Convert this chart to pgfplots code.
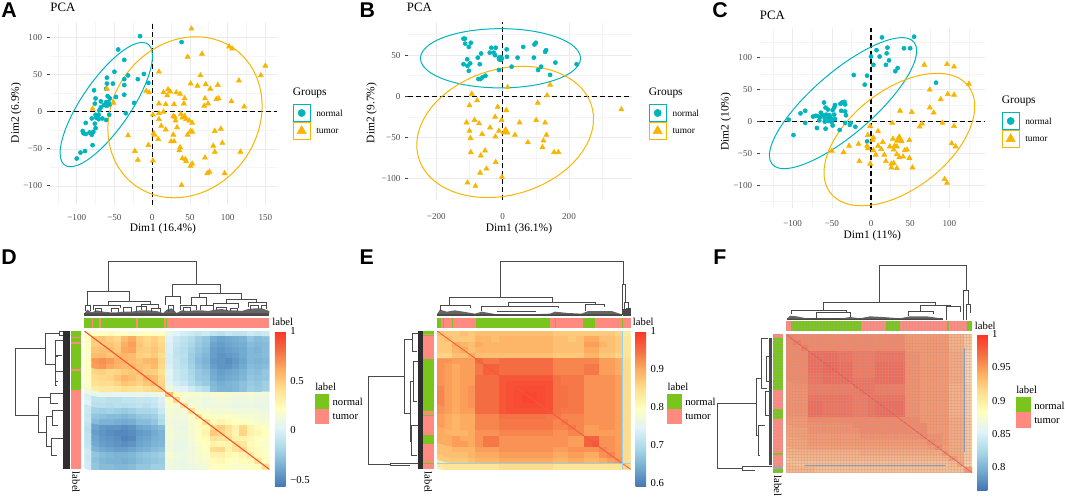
\documentclass[border=0pt]{standalone}
\usepackage{fontspec}
\usepackage{pgfplots}
\pgfplotsset{compat=1.18}
\setmainfont{Liberation Serif}
\newfontfamily\lettersans{Liberation Sans}
\definecolor{teal1}{HTML}{00B4BE}
\definecolor{gold1}{HTML}{F8B500}
\definecolor{ggreen}{HTML}{7AC51D}
\definecolor{ssalmon}{HTML}{FF8A80}
\definecolor{dendc}{HTML}{4A4A4A}
\definecolor{ticktxt}{HTML}{4D4D4D}
\definecolor{fgrid}{HTML}{A8A2A0}
\definecolor{fpink}{HTML}{EB788C}
\newcommand\ftick{\fontsize{6.8}{8}\selectfont}
\newcommand\flab{\fontsize{8.6}{10}\selectfont}
\newcommand\fleg{\fontsize{7}{8}\selectfont}
\newcommand\fhl{\fontsize{8}{9}\selectfont}
\newcommand\flet{\fontsize{16}{18}\selectfont\lettersans\bfseries}
\pgfplotsset{
 colormap={rdylbu}{rgb255=(69,117,180) rgb255=(116,173,209) rgb255=(171,217,233) rgb255=(224,243,248) rgb255=(255,255,191) rgb255=(254,224,144) rgb255=(253,174,97) rgb255=(244,109,67) rgb255=(252,52,40)},
 pca/.style={scale only axis, anchor=south west, clip=false,
  axis line style={draw=none}, tick align=outside, tick pos=left,
  xtick style={draw=none}, ytick style={draw=black!75,line width=0.8pt},
  major tick length=2.4pt, minor tick length=0pt,
  grid=both, major grid style={gray!16,line width=0.5pt}, minor grid style={gray!8,line width=0.4pt},
  tick label style={font=\ftick,text=ticktxt},
  label style={font=\flab}, title style={font=\fontsize{9.6}{11}\selectfont,anchor=center},
 },
 ov/.style={scale only axis, anchor=south west, hide axis, clip=false, xmin=0,xmax=1065,y dir=reverse,ymin=0},
 norm/.style={only marks,mark=*,teal1,mark size=1.55pt,mark options={fill=teal1}},
 tumo/.style={only marks,mark=triangle*,gold1,mark size=2.2pt,mark options={fill=gold1}},
 ell/.style={smooth cycle,tension=0.63,no marks,line width=0.75pt},
 zero/.style={black,line width=0.95pt,dash pattern=on 3.6pt off 2.4pt,no marks},
 heat/.style={scale only axis, anchor=south west, enlargelimits=false, y dir=reverse,
  xmin=-0.5,xmax=24.5,ymin=-0.5,ymax=24.5, xtick=\empty,ytick=\empty,
  axis line style={draw=none}, colormap name=rdylbu, colorbar},
 dend/.style={dendc,line width=0.5pt,no marks},
 fgridded/.style={scale only axis,anchor=south west,axis line style={draw=none},axis on top,
  major tick length=0pt,xticklabels={},yticklabels={},grid=major,
  major grid style={color=fgrid,opacity=0.33,line width=0.75pt}},
}
\newcommand\Rb[5]{\addplot[fill=#5,draw=none,forget plot] coordinates {(#1,#3)(#2,#3)(#2,#4)(#1,#4)} -- cycle;}
\newcommand\Bx[5]{\addplot[draw=#5,line width=0.75pt,no marks,forget plot] coordinates {(#1,#3)(#2,#3)(#2,#4)(#1,#4)} -- cycle;}
\newcommand\Ub[5]{\addplot[dend,forget plot] coordinates {(#1,#4)(#1,#3)(#2,#3)(#2,#5)};}
\newcommand\Vb[5]{\addplot[dend,forget plot] coordinates {(#4,#1)(#3,#1)(#3,#2)(#5,#2)};}
\newcommand\PCAleg[7]{% xbox0 xbox1 y0 ymid y1 xtext xgroups
 \Bx{#1}{#2}{#3}{#4}{teal1}
 \Bx{#1}{#2}{#4+3}{#5}{gold1}
 \addplot[only marks,teal1,mark=*,mark size=2.7pt,mark options={fill=teal1},forget plot] coordinates {({(#1+#2)/2},{(#3+#4)/2})};
 \addplot[only marks,gold1,mark=triangle*,mark size=4pt,mark options={fill=gold1},forget plot] coordinates {({(#1+#2)/2},{(#4+3+#5)/2})};
 \node[font=\fleg,anchor=west,inner sep=0pt] at (#6,{(#3+#4)/2}) {normal};
 \node[font=\fleg,anchor=west,inner sep=0pt] at (#6,{(#4+3+#5)/2}) {tumor};
 \node[font=\flab,anchor=west,inner sep=0pt] at (#7,{#3-33}) {Groups};
}
\begin{document}
\begin{tikzpicture}
\useasboundingbox (0pt,0pt) rectangle (798.75pt,-372.75pt);
% ---------- A
\begin{axis}[pca,at={(37.5pt,-153.75pt)},width=170pt,height=137.5pt,
 xmin=-135.4,xmax=165,ymin=-125.7,ymax=121.5,
 xtick={-100,-50,0,50,100,150},xticklabels={−100,−50,0,50,100,150},
 ytick={-100,-50,0,50,100},yticklabels={−100,−50,0,50,100},
 minor xtick={-125,-75,-25,25,75,125},minor ytick={-75,-25,25,75},
 xticklabel style={yshift=-1.5pt},
 title={PCA},title style={at={(axis description cs:0.057,1.036)}},
 xlabel={Dim1 (16.4\%)},xlabel style={at={(axis description cs:0.498,-0.13)},anchor=center},
 ylabel={Dim2 (6.9\%)},ylabel style={at={(axis description cs:-0.15,0.502)},anchor=center}]
\addplot[zero,forget plot] coordinates {(-135.4,0)(165,0)};
\addplot[zero,forget plot] coordinates {(0,-125.7)(0,121.5)};
\addplot[norm] coordinates {(-16,102)(39,94)(-45,84)(-37,70)(-50,54)(-32,49)(-11,51)(-19,44)(-37,44)(-5,39)(-60,46)(-52,38)(-60,38)(-37,36)(-77,29)(-61,31)(-37,23)(-48,20)(-75,18)(-59,21)(-56,18)(-24,12)(-76,11)(-68,14)(-61,13)(-58,13)(-64,9)(-60,8)(-56,10)(-68,6)(-70,2)(-57,-4)(-35,-2)(-75,-4)(-71,-4)(-74,-8)(-80,-9)(-71,-10)(-66,-9)(-61,-11)(-88,-15)(-76,-16)(-75,-22)(-92,-26)(-91,-29)(-88,-30)(-83,-28)(-78,-27)(-80,-31)(-79,-45)(-89,-53)(-95,-55)(-100,-63)};
\addplot[tumo] coordinates {(52,112)(66,78)(47,74)(102,88)(106,85)(150,62)(144,49)(9,54)(64,49)(115,42)(51,38)(60,35)(71,37)(87,36)(77,31)(-8,28)(-4,26)(21,30)(15,26)(24,27)(32,26)(37,24)(20,22)(43,18)(70,18)(85,17)(88,18)(105,14)(-60,31)(-79,4)(-51,12)(9,11)(18,10)(29,10)(42,11)(74,11)(69,8)(122,7)(15,0)(9,-2)(1,-4)(28,-6)(30,-7)(38,-3)(43,-6)(40,-8)(45,-10)(49,-12)(53,-15)(9,-10)(31,-12)(12,-19)(18,-24)(33,-21)(51,-26)(53,-27)(47,-31)(28,-31)(2,-29)(3,-31)(-32,-32)(8,-37)(25,-40)(29,-40)(37,-48)(36,-52)(-5,-45)(-23,-53)(-19,-65)(1,-66)(40,-63)(44,-64)(45,-67)(91,-23)(83,-26)(93,-42)(81,-46)(83,-54)(117,-54)(70,-62)(53,-70)(51,-73)(76,-81)(73,-83)(96,-83)(39,-99)};
\addplot[ell,teal1] coordinates {(0.4,75.1)(-7.8,92.5)(-30.2,87.9)(-60.8,62.2)(-91.4,22.5)(-113.8,-20.7)(-122,-55.7)(-113.8,-73.1)(-91.4,-68.5)(-60.8,-42.8)(-30.2,-3.1)(-7.8,40.1)};
\addplot[ell,gold1] coordinates {(145.7,7.8)(132,59.6)(94.6,93.3)(43.5,100.1)(-7.6,78.1)(-45,33.2)(-58.7,-22.6)(-45,-74.4)(-7.6,-108.1)(43.5,-114.9)(94.6,-92.9)(132,-48)};
\end{axis}
% ---------- B
\begin{axis}[pca,at={(306.2pt,-150pt)},width=167.55pt,height=133.7pt,
 xmin=-284.6,xmax=389,ymin=-126,ymax=90.6,
 xtick={-200,0,200},xticklabels={−200,0,200},
 ytick={-100,-50,0,50},yticklabels={−100,−50,0,50},
 minor xtick={-100,100,300},minor ytick={-75,-25,25,75},
 xticklabel style={yshift=-4.5pt},
 title={PCA},title style={at={(axis description cs:0.05,1.035)}},
 xlabel={Dim1 (36.1\%)},xlabel style={at={(axis description cs:0.4955,-0.16)},anchor=center},
 ylabel={Dim2 (9.7\%)},ylabel style={at={(axis description cs:-0.164,0.488)},anchor=center}]
\addplot[zero,forget plot] coordinates {(-284.6,0)(389,0)};
\addplot[zero,forget plot] coordinates {(0,-126)(0,90.6)};
\addplot[norm] coordinates {(-118,70)(-114,70)(-96,65)(-113,64)(-102,60)(-34,59)(-21,59)(-39,53)(-27,53)(-23,50)(-65,52)(-75,47)(12,57)(13,48)(45,47)(62,60)(100,65)(96,63)(131,56)(128,54)(94,47)(159,41)(223,39)(116,36)(107,32)(143,26)(27,36)(-11,32)(-118,39)(-107,45)(-98,40)(-106,37)(-102,31)(-69,39)(-73,21)(-67,21)(-61,23)(-52,25)};
\addplot[only marks,teal1,mark=*,mark size=2.6pt,mark options={fill=teal1}] coordinates {(-7,46)};
\addplot[tumo] coordinates {(-93,3)(15,11)(143,14)(134,1)(-77,-5)(-100,-11)(-15,-13)(106,-8)(11,-17)(358,-16)(-23,-25)(-85,-29)(-3,-29)(-109,-32)(-71,-33)(51,-32)(101,-29)(128,-32)(-38,-38)(-100,-42)(-11,-42)(-62,-46)(-97,-51)(-22,-49)(37,-47)(132,-47)(123,-54)(76,-56)(120,-62)(-96,-68)(-53,-66)(-66,-72)(155,-68)(168,-68)(-21,-80)(-49,-88)(-68,-93)(-2,-98)(-106,-105)(-82,-109)};
\addplot[only marks,gold1,mark=triangle*,mark size=3.8pt,mark options={fill=gold1}] coordinates {(9,-43)};
\addplot[ell,teal1] coordinates {(235,46.2)(202.6,64.2)(114.3,77.4)(-6.5,82.2)(-127.3,77.4)(-215.6,64.2)(-248,46.2)(-215.6,28.2)(-127.3,15)(-6.5,10.2)(114.3,15)(202.6,28.2)};
\addplot[ell,gold1] coordinates {(274,-27.4)(238.3,9.5)(140.8,32.3)(7.5,34.8)(-125.8,16.3)(-223.3,-18.1)(-259,-59.2)(-223.3,-96.1)(-125.8,-118.9)(7.5,-121.4)(140.8,-102.9)(238.3,-68.5)};
\end{axis}
% ---------- C
\begin{axis}[pca,at={(570pt,-156.2pt)},width=168.75pt,height=135pt,
 xmin=-141.7,xmax=145.5,ymin=-135.7,ymax=146.3,
 xtick={-100,-50,0,50,100},xticklabels={−100,−50,0,50,100},
 ytick={-100,-50,0,50,100},yticklabels={−100,−50,0,50,100},
 minor xtick={-125,-75,-25,25,75,125},minor ytick={-125,-75,-25,25,75,125},
 xticklabel style={yshift=-3pt},
 title={PCA},title style={at={(axis description cs:0.055,1.03)}},
 xlabel={Dim1 (11\%)},xlabel style={at={(axis description cs:0.499,-0.155)},anchor=center},
 ylabel={Dim2 (10\%)},ylabel style={at={(axis description cs:-0.152,0.481)},anchor=center}]
\addplot[zero,forget plot] coordinates {(-141.7,0)(145.5,0)};
\addplot[zero,forget plot] coordinates {(0,-135.7)(0,146.3)};
\addplot[norm] coordinates {(14,132)(55,133)(21,116)(42,115)(50,115)(7,112)(20,107)(0,102)(11,102)(23,96)(3,89)(19,89)(34,84)(31,79)(-22,73)(-5,72)(-8,58)(83,61)(-60,30)(-37,30)(-34,31)(-39,28)(-33,27)(-46,26)(-58,22)(-47,22)(-55,19)(-49,18)(-84,17)(-90,13)(-64,14)(-38,17)(-33,16)(-32,10)(-71,9)(-69,9)(-74,8)(-61,10)(-57,11)(-53,10)(-47,11)(-65,7)(-59,5)(-54,7)(-51,5)(-46,4)(-66,2)(-59,0)(-54,1)(-50,-1)(-105,3)(-26,-2)(-84,-2)(-33,-2)(-27,-5)(-49,-6)(-20,-8)(-69,-10)(-58,-11)(-40,-13)(-99,-21)(-5,-31)};
\addplot[tumo] coordinates {(68,89)(97,90)(106,86)(125,59)(75,50)(98,43)(106,42)(89,35)(75,22)(80,14)(37,17)(52,15)(27,-2)(65,-3)(62,-8)(91,-2)(106,-7)(-1,-7)(9,-15)(-4,-21)(3,-25)(2,-29)(103,-34)(108,-39)(-28,-38)(-16,-35)(-5,-38)(-4,-42)(9,-38)(15,-32)(28,-27)(36,-25)(34,-30)(39,-31)(49,-29)(30,-38)(24,-39)(33,-39)(29,-44)(13,-43)(46,-44)(43,-45)(-50,-46)(-35,-48)(3,-45)(6,-52)(17,-52)(33,-51)(36,-56)(41,-55)(49,-57)(19,-62)(-15,-62)(-1,-66)(26,-66)(29,-65)(33,-73)(53,-72)(26,-72)(94,-90)(97,-96)};
\addplot[only marks,gold1,mark=triangle*,mark size=3.8pt,mark options={fill=gold1}] coordinates {(36,-27)};
\addplot[ell,teal1] coordinates {(58.3,111.1)(45.7,130.9)(11.3,123.3)(-35.7,90.6)(-82.7,41.3)(-117.1,-11.3)(-129.7,-53.1)(-117.1,-72.9)(-82.7,-65.3)(-35.7,-32.6)(11.3,16.7)(45.7,69.3)};
\addplot[ell,gold1] coordinates {(132.4,23.9)(119.5,61.8)(84.3,75.8)(36.2,61.8)(-11.9,23.8)(-47.1,-28)(-60,-79.9)(-47.1,-117.8)(-11.9,-131.8)(36.2,-117.8)(84.3,-79.8)(119.5,-28)};
\end{axis}
% ---------- overlays top
\begin{axis}[ov,at={(0pt,-168.75pt)},width=266.25pt,height=168.75pt,ymax=675]
\PCAleg{880}{930}{313}{365}{418}{948}{878}
\node[font=\flet] at (27,30) {A};
\end{axis}
\begin{axis}[ov,at={(266.25pt,-168.75pt)},width=266.25pt,height=168.75pt,ymax=675]
\PCAleg{883}{933}{313}{365}{418}{952}{881}
\node[font=\flet] at (37,30) {B};
\end{axis}
\begin{axis}[ov,at={(532.5pt,-168.75pt)},width=266.25pt,height=168.75pt,ymax=675]
\PCAleg{877}{927}{337}{389}{442}{945}{875}
\node[font=\flet] at (30,30) {C};
\end{axis}
% ---------- D heat
\begin{axis}[heat,at={(63.25pt,-352pt)},width=138.75pt,height=103.75pt,
 point meta min=-0.567,point meta max=1,
 colorbar style={at={(1.0306,1)},anchor=north west,scale only axis,width=8pt,height=116.75pt,
  ytick={-0.5,0,0.5,1},yticklabels={−0.5,0,0.5,1},yticklabel pos=right,major tick length=0pt,
  axis line style={draw=none},yticklabel style={font=\fhl}}]
\addplot[matrix plot*,mesh/cols=25,point meta=\thisrow{z}] table[row sep=crcr,x expr={mod(\coordindex,25)},y expr={floor(\coordindex/25)}] {z\\
.20\\.22\\.20\\.25\\.20\\.22\\.18\\.20\\.22\\.20\\.20\\.08\\.02\\-.02\\-.05\\-.08\\-.05\\-.10\\-.12\\-.08\\-.10\\-.10\\-.05\\-.08\\-.05\\
.22\\.50\\.52\\.48\\.45\\.55\\.62\\.50\\.45\\.48\\.42\\.02\\-.06\\-.10\\-.15\\-.22\\-.26\\-.36\\-.40\\-.38\\-.36\\-.34\\-.26\\-.30\\-.28\\
.20\\.48\\.50\\.52\\.48\\.60\\.65\\.52\\.46\\.50\\.44\\.00\\-.08\\-.12\\-.18\\-.24\\-.28\\-.40\\-.42\\-.40\\-.38\\-.36\\-.30\\-.32\\-.30\\
.22\\.52\\.54\\.55\\.50\\.62\\.64\\.50\\.48\\.52\\.46\\.00\\-.10\\-.14\\-.20\\-.26\\-.30\\-.42\\-.44\\-.42\\-.40\\-.38\\-.32\\-.34\\-.30\\
.18\\.55\\.56\\.52\\.55\\.58\\.55\\.48\\.46\\.50\\.42\\-.02\\-.10\\-.12\\-.22\\-.28\\-.32\\-.42\\-.46\\-.44\\-.42\\-.38\\-.32\\-.32\\-.30\\
.24\\.68\\.70\\.66\\.60\\.58\\.55\\.52\\.56\\.58\\.46\\-.02\\-.08\\-.14\\-.22\\-.30\\-.34\\-.44\\-.46\\-.48\\-.44\\-.40\\-.32\\-.34\\-.32\\
.22\\.66\\.68\\.62\\.58\\.56\\.58\\.54\\.52\\.56\\.44\\.00\\-.08\\-.12\\-.20\\-.28\\-.32\\-.42\\-.46\\-.46\\-.42\\-.38\\-.30\\-.32\\-.30\\
.20\\.46\\.48\\.44\\.46\\.50\\.52\\.55\\.50\\.48\\.40\\.04\\-.06\\-.10\\-.18\\-.24\\-.28\\-.38\\-.42\\-.40\\-.38\\-.34\\-.28\\-.30\\-.26\\
.22\\.42\\.44\\.46\\.52\\.58\\.54\\.50\\.58\\.55\\.44\\.02\\-.06\\-.10\\-.16\\-.24\\-.26\\-.36\\-.40\\-.38\\-.36\\-.32\\-.26\\-.28\\-.26\\
.20\\.40\\.42\\.42\\.46\\.52\\.50\\.46\\.52\\.56\\.46\\.06\\-.02\\-.06\\-.14\\-.20\\-.24\\-.32\\-.36\\-.34\\-.32\\-.28\\-.24\\-.26\\-.22\\
.18\\.34\\.36\\.36\\.38\\.42\\.40\\.38\\.42\\.44\\.48\\.12\\.04\\.02\\-.04\\-.10\\-.14\\-.30\\-.34\\-.34\\-.32\\-.28\\-.22\\-.24\\-.22\\
.12\\.08\\.06\\.06\\.05\\.06\\.06\\.08\\.06\\.08\\.12\\.55\\.25\\.18\\.16\\.16\\.14\\.16\\.16\\.16\\.14\\.14\\.14\\.12\\.12\\
.00\\-.10\\-.10\\-.12\\-.12\\-.10\\-.10\\-.08\\-.08\\-.06\\.00\\.20\\.45\\.16\\.12\\.14\\.10\\.12\\.14\\.12\\.10\\.10\\.12\\.10\\.10\\
.02\\-.12\\-.12\\-.14\\-.12\\-.14\\-.12\\-.10\\-.12\\-.08\\-.02\\.18\\.14\\.40\\.14\\.12\\.10\\.10\\.12\\.10\\.08\\.08\\.10\\.08\\.08\\
-.06\\-.20\\-.22\\-.20\\-.22\\-.24\\-.22\\-.18\\-.18\\-.16\\-.06\\.14\\.12\\.14\\.40\\.18\\.16\\.15\\.14\\.15\\.12\\.12\\.12\\.12\\.10\\
-.08\\-.26\\-.28\\-.30\\-.30\\-.32\\-.30\\-.26\\-.24\\-.22\\-.12\\.14\\.12\\.12\\.18\\.38\\.22\\.20\\.18\\.20\\.18\\.16\\.16\\.14\\.12\\
-.06\\-.30\\-.34\\-.34\\-.36\\-.38\\-.36\\-.30\\-.30\\-.26\\-.16\\.12\\.10\\.10\\.16\\.22\\.40\\.25\\.28\\.24\\.22\\.20\\.18\\.16\\.15\\
-.10\\-.40\\-.44\\-.46\\-.46\\-.48\\-.46\\-.40\\-.38\\-.34\\-.30\\.14\\.10\\.08\\.16\\.22\\.26\\.42\\.48\\.40\\.30\\.44\\.30\\.24\\.20\\
-.12\\-.42\\-.46\\-.48\\-.50\\-.50\\-.48\\-.44\\-.42\\-.38\\-.34\\.14\\.12\\.10\\.14\\.20\\.28\\.50\\.45\\.38\\.28\\.46\\.30\\.26\\.22\\
-.10\\-.40\\-.44\\-.46\\-.48\\-.52\\-.50\\-.42\\-.40\\-.36\\-.34\\.14\\.10\\.10\\.15\\.22\\.24\\.38\\.36\\.40\\.30\\.30\\.26\\.22\\.20\\
-.10\\-.38\\-.42\\-.44\\-.46\\-.48\\-.46\\-.40\\-.38\\-.34\\-.32\\.12\\.08\\.08\\.12\\.18\\.22\\.30\\.28\\.30\\.40\\.36\\.24\\.20\\.18\\
-.08\\-.34\\-.38\\-.40\\-.42\\-.42\\-.40\\-.36\\-.34\\-.30\\-.28\\.12\\.08\\.08\\.12\\.16\\.20\\.42\\.44\\.30\\.38\\.42\\.28\\.24\\.18\\
-.04\\-.26\\-.30\\-.32\\-.34\\-.34\\-.32\\-.28\\-.26\\-.24\\-.22\\.16\\.12\\.10\\.12\\.16\\.18\\.30\\.30\\.26\\.24\\.28\\.36\\.24\\.20\\
-.06\\-.28\\-.32\\-.34\\-.34\\-.36\\-.34\\-.30\\-.28\\-.26\\-.24\\.12\\.10\\.08\\.12\\.14\\.16\\.24\\.26\\.22\\.20\\.24\\.24\\.38\\.22\\
-.04\\-.26\\-.30\\-.30\\-.32\\-.32\\-.30\\-.26\\-.26\\-.22\\-.22\\.12\\.10\\.08\\.10\\.12\\.15\\.20\\.22\\.20\\.18\\.18\\.20\\.22\\.40\\
};
\addplot[color={rgb,255:red,246;green,80;blue,50},line width=0.8pt,no marks] coordinates {(-0.5,-0.5)(24.5,24.5)};
\end{axis}
% ---------- E heat
\begin{axis}[heat,at={(327.75pt,-352pt)},width=145.25pt,height=103.75pt,
 point meta min=0.59,point meta max=1,
 colorbar style={at={(1.0258,1)},anchor=north west,scale only axis,width=7.75pt,height=116.75pt,
  ytick={0.6,0.7,0.8,0.9,1},yticklabels={0.6,0.7,0.8,0.9,1},yticklabel pos=right,major tick length=0pt,
  axis line style={draw=none},yticklabel style={font=\fhl}}]
\addplot[matrix plot*,mesh/cols=25,point meta=\thisrow{z}] table[row sep=crcr,x expr={mod(\coordindex,25)},y expr={floor(\coordindex/25)}] {z\\
.88\\.87\\.87\\.88\\.87\\.88\\.88\\.88\\.88\\.88\\.88\\.88\\.88\\.88\\.88\\.87\\.87\\.87\\.87\\.87\\.87\\.87\\.87\\.86\\.83\\
.87\\.88\\.87\\.87\\.87\\.89\\.89\\.88\\.89\\.89\\.89\\.89\\.89\\.89\\.89\\.88\\.88\\.87\\.88\\.90\\.90\\.88\\.88\\.87\\.84\\
.87\\.87\\.90\\.89\\.88\\.90\\.89\\.89\\.89\\.89\\.89\\.89\\.89\\.89\\.89\\.88\\.88\\.88\\.88\\.91\\.91\\.89\\.88\\.87\\.84\\
.87\\.87\\.89\\.90\\.88\\.89\\.89\\.89\\.89\\.89\\.89\\.89\\.89\\.89\\.89\\.88\\.88\\.88\\.88\\.90\\.90\\.88\\.88\\.87\\.84\\
.86\\.86\\.88\\.88\\.90\\.88\\.88\\.88\\.88\\.88\\.88\\.88\\.88\\.88\\.88\\.87\\.87\\.87\\.87\\.89\\.89\\.87\\.87\\.86\\.84\\
.92\\.92\\.91\\.91\\.91\\.95\\.94\\.94\\.95\\.95\\.95\\.95\\.95\\.95\\.95\\.93\\.93\\.93\\.93\\.93\\.93\\.91\\.91\\.90\\.85\\
.92\\.91\\.90\\.91\\.91\\.94\\.96\\.96\\.95\\.95\\.95\\.95\\.95\\.95\\.95\\.93\\.93\\.93\\.93\\.94\\.94\\.91\\.91\\.90\\.85\\
.92\\.91\\.90\\.91\\.91\\.94\\.96\\.96\\.95\\.95\\.95\\.95\\.95\\.95\\.95\\.93\\.93\\.93\\.93\\.94\\.94\\.91\\.91\\.90\\.85\\
.92\\.91\\.90\\.91\\.91\\.95\\.95\\.95\\.97\\.97\\.97\\.97\\.97\\.97\\.97\\.945\\.94\\.94\\.94\\.92\\.92\\.92\\.92\\.91\\.85\\
.92\\.91\\.90\\.91\\.91\\.95\\.95\\.95\\.97\\.975\\.975\\.975\\.975\\.975\\.975\\.945\\.94\\.94\\.94\\.92\\.92\\.92\\.92\\.91\\.85\\
.93\\.91\\.90\\.91\\.92\\.95\\.95\\.95\\.97\\.975\\.98\\.98\\.98\\.98\\.975\\.945\\.945\\.94\\.94\\.92\\.92\\.92\\.92\\.91\\.85\\
.93\\.91\\.90\\.91\\.92\\.95\\.95\\.95\\.97\\.975\\.98\\.985\\.985\\.98\\.975\\.945\\.945\\.94\\.94\\.92\\.92\\.92\\.92\\.91\\.85\\
.93\\.91\\.90\\.91\\.92\\.95\\.95\\.95\\.97\\.975\\.98\\.985\\.985\\.98\\.975\\.945\\.945\\.94\\.94\\.92\\.92\\.92\\.92\\.91\\.85\\
.93\\.91\\.90\\.91\\.92\\.95\\.95\\.95\\.97\\.975\\.98\\.98\\.98\\.98\\.975\\.945\\.945\\.94\\.94\\.92\\.92\\.92\\.92\\.91\\.85\\
.92\\.91\\.90\\.91\\.91\\.95\\.95\\.95\\.97\\.975\\.975\\.975\\.975\\.975\\.975\\.945\\.94\\.94\\.94\\.92\\.92\\.92\\.92\\.91\\.85\\
.91\\.90\\.89\\.90\\.90\\.93\\.93\\.93\\.945\\.945\\.945\\.945\\.945\\.945\\.94\\.94\\.93\\.93\\.93\\.92\\.92\\.92\\.92\\.91\\.85\\
.91\\.90\\.89\\.90\\.90\\.93\\.93\\.93\\.94\\.94\\.94\\.94\\.94\\.94\\.94\\.93\\.94\\.93\\.93\\.92\\.92\\.92\\.92\\.91\\.85\\
.91\\.90\\.89\\.90\\.90\\.93\\.93\\.93\\.94\\.94\\.94\\.94\\.94\\.94\\.94\\.93\\.93\\.94\\.93\\.91\\.91\\.92\\.92\\.91\\.85\\
.90\\.89\\.89\\.89\\.90\\.92\\.92\\.92\\.93\\.93\\.93\\.93\\.93\\.93\\.93\\.92\\.92\\.93\\.93\\.91\\.91\\.91\\.91\\.91\\.85\\
.90\\.90\\.91\\.90\\.90\\.92\\.94\\.94\\.92\\.92\\.92\\.92\\.92\\.92\\.92\\.92\\.92\\.91\\.91\\.96\\.96\\.92\\.92\\.91\\.85\\
.90\\.90\\.91\\.91\\.90\\.92\\.94\\.94\\.92\\.92\\.92\\.92\\.92\\.92\\.92\\.92\\.92\\.91\\.91\\.96\\.97\\.92\\.92\\.91\\.85\\
.88\\.88\\.89\\.89\\.89\\.91\\.91\\.91\\.92\\.92\\.92\\.92\\.92\\.92\\.92\\.91\\.91\\.92\\.92\\.92\\.92\\.93\\.92\\.91\\.85\\
.88\\.88\\.88\\.88\\.89\\.90\\.90\\.90\\.91\\.91\\.91\\.91\\.91\\.91\\.91\\.90\\.90\\.91\\.91\\.90\\.90\\.92\\.93\\.91\\.85\\
.87\\.87\\.87\\.87\\.88\\.89\\.89\\.89\\.90\\.90\\.90\\.90\\.90\\.90\\.90\\.89\\.89\\.90\\.90\\.89\\.89\\.90\\.91\\.92\\.85\\
.83\\.84\\.84\\.84\\.84\\.84\\.84\\.84\\.85\\.85\\.85\\.85\\.85\\.85\\.85\\.84\\.84\\.84\\.84\\.84\\.84\\.84\\.84\\.84\\.86\\
};
\addplot[color={rgb,255:red,240;green,90;blue,60},line width=0.6pt,no marks] coordinates {(-0.5,-0.5)(24.5,24.5)};
\end{axis}
% ---------- F heat
\begin{axis}[heat,fgridded,at={(589.5pt,-354.5pt)},width=139.5pt,height=103.75pt,
 point meta min=0.765,point meta max=1,
 xtick={-0.4328,-0.0296,...,24.5},ytick={-0.47,0.0722,...,24.5},
 colorbar style={at={(1.0269,1)},anchor=north west,scale only axis,width=7.75pt,height=116.75pt,grid=none,
  ytick={0.8,0.85,0.9,0.95,1},yticklabels={0.8,0.85,0.9,0.95,1},yticklabel pos=right,major tick length=0pt,
  axis line style={draw=none},yticklabel style={font=\fhl}}]
\addplot[matrix plot*,mesh/cols=25,point meta=\thisrow{z}] table[row sep=crcr,x expr={mod(\coordindex,25)},y expr={floor(\coordindex/25)}] {z\\
.96\\.955\\.955\\.955\\.955\\.955\\.955\\.955\\.955\\.955\\.955\\.955\\.955\\.955\\.955\\.955\\.945\\.945\\.945\\.945\\.945\\.945\\.925\\.925\\.905\\
.955\\.965\\.955\\.955\\.955\\.955\\.955\\.955\\.955\\.955\\.955\\.955\\.955\\.955\\.955\\.955\\.945\\.945\\.945\\.945\\.945\\.945\\.925\\.925\\.90\\
.955\\.955\\.965\\.955\\.955\\.955\\.955\\.955\\.955\\.955\\.955\\.955\\.955\\.955\\.955\\.955\\.945\\.945\\.945\\.945\\.945\\.945\\.925\\.925\\.90\\
.955\\.955\\.955\\.975\\.975\\.975\\.975\\.97\\.97\\.965\\.965\\.965\\.97\\.97\\.97\\.97\\.95\\.95\\.945\\.945\\.945\\.945\\.93\\.93\\.88\\
.955\\.955\\.955\\.975\\.975\\.975\\.975\\.97\\.97\\.965\\.965\\.965\\.97\\.97\\.97\\.97\\.95\\.95\\.945\\.945\\.945\\.945\\.93\\.93\\.88\\
.955\\.955\\.955\\.975\\.975\\.98\\.98\\.975\\.975\\.965\\.965\\.965\\.975\\.975\\.975\\.975\\.95\\.95\\.945\\.945\\.945\\.945\\.93\\.93\\.88\\
.955\\.955\\.955\\.975\\.975\\.98\\.98\\.975\\.975\\.965\\.965\\.965\\.975\\.975\\.975\\.975\\.95\\.95\\.945\\.945\\.945\\.945\\.93\\.93\\.88\\
.955\\.955\\.955\\.97\\.97\\.975\\.975\\.975\\.975\\.965\\.965\\.965\\.975\\.975\\.975\\.975\\.95\\.95\\.945\\.945\\.945\\.945\\.93\\.93\\.88\\
.955\\.955\\.955\\.97\\.97\\.975\\.975\\.975\\.975\\.97\\.97\\.97\\.975\\.975\\.975\\.975\\.95\\.95\\.945\\.945\\.945\\.945\\.93\\.93\\.88\\
.95\\.95\\.95\\.965\\.965\\.965\\.965\\.965\\.965\\.97\\.97\\.97\\.965\\.965\\.965\\.965\\.95\\.95\\.945\\.945\\.945\\.945\\.925\\.925\\.89\\
.95\\.95\\.95\\.965\\.965\\.965\\.965\\.965\\.965\\.965\\.97\\.97\\.965\\.965\\.965\\.965\\.95\\.95\\.945\\.945\\.945\\.945\\.925\\.925\\.89\\
.95\\.95\\.95\\.97\\.97\\.97\\.97\\.97\\.97\\.965\\.965\\.97\\.97\\.97\\.97\\.97\\.95\\.95\\.945\\.945\\.945\\.945\\.925\\.925\\.89\\
.95\\.95\\.95\\.975\\.975\\.97\\.97\\.97\\.97\\.965\\.965\\.97\\.975\\.975\\.975\\.975\\.95\\.95\\.945\\.945\\.945\\.945\\.925\\.925\\.89\\
.95\\.95\\.95\\.975\\.975\\.97\\.97\\.97\\.97\\.965\\.965\\.97\\.975\\.975\\.975\\.975\\.95\\.95\\.945\\.945\\.945\\.945\\.925\\.925\\.89\\
.95\\.95\\.95\\.975\\.975\\.97\\.97\\.97\\.97\\.965\\.965\\.97\\.975\\.975\\.975\\.975\\.95\\.95\\.945\\.945\\.945\\.945\\.925\\.925\\.89\\
.945\\.945\\.945\\.955\\.955\\.955\\.955\\.955\\.955\\.955\\.955\\.955\\.955\\.955\\.955\\.955\\.955\\.955\\.945\\.945\\.945\\.945\\.93\\.93\\.90\\
.945\\.945\\.945\\.95\\.95\\.95\\.95\\.95\\.95\\.955\\.955\\.955\\.955\\.955\\.955\\.955\\.955\\.955\\.955\\.945\\.945\\.945\\.93\\.93\\.90\\
.94\\.94\\.94\\.95\\.95\\.95\\.95\\.95\\.95\\.95\\.955\\.955\\.955\\.955\\.955\\.955\\.955\\.955\\.955\\.945\\.945\\.945\\.93\\.93\\.90\\
.94\\.94\\.94\\.945\\.945\\.945\\.945\\.945\\.945\\.945\\.95\\.95\\.95\\.95\\.95\\.95\\.95\\.95\\.955\\.95\\.95\\.945\\.93\\.93\\.90\\
.935\\.935\\.935\\.945\\.945\\.945\\.945\\.945\\.945\\.945\\.945\\.945\\.945\\.945\\.945\\.945\\.945\\.945\\.945\\.955\\.95\\.945\\.93\\.93\\.90\\
.935\\.935\\.935\\.94\\.94\\.94\\.94\\.94\\.94\\.94\\.94\\.94\\.94\\.94\\.94\\.94\\.94\\.94\\.94\\.945\\.955\\.94\\.93\\.93\\.90\\
.925\\.925\\.925\\.925\\.925\\.925\\.925\\.925\\.925\\.925\\.93\\.93\\.93\\.93\\.93\\.93\\.93\\.93\\.93\\.93\\.93\\.945\\.93\\.93\\.90\\
.92\\.92\\.92\\.92\\.92\\.92\\.92\\.92\\.92\\.92\\.92\\.92\\.92\\.92\\.92\\.92\\.92\\.92\\.92\\.92\\.92\\.925\\.945\\.93\\.90\\
.91\\.91\\.91\\.91\\.91\\.91\\.91\\.91\\.91\\.91\\.91\\.91\\.91\\.91\\.91\\.91\\.91\\.91\\.91\\.91\\.91\\.91\\.915\\.935\\.89\\
.92\\.92\\.92\\.92\\.91\\.91\\.91\\.91\\.91\\.91\\.91\\.91\\.91\\.91\\.91\\.91\\.91\\.91\\.91\\.91\\.91\\.91\\.91\\.91\\.945\\
};
\addplot[color={rgb,255:red,225;green,70;blue,50},line width=0.5pt,no marks] coordinates {(-0.5,-0.5)(24.5,24.5)};
\end{axis}
% ---------- overlay D
\begin{axis}[ov,at={(0pt,-372.75pt)},width=266.25pt,height=204pt,ymax=816]
\Rb{253}{808}{264}{273}{dendc}
\addplot[fill=dendc!85,draw=none,forget plot] coordinates {(253,265)(262,254)(275,262)(290,256)(310,260)(330,262)(350,262)(372,260)(395,260)(420,256)(445,256)(470,258)(490,264)(500,254)(515,250)(530,264)(545,256)(565,258)(585,256)(605,256)(625,258)(645,254)(665,252)(685,256)(705,256)(725,258)(745,252)(765,250)(785,250)(808,258)(808,265)} -- cycle;
\Ub{325}{590}{110}{200}{178}
\Ub{263}{388}{200}{240}{228}
\Ub{518}{661}{178}{213}{204}
\Ub{497}{540}{213}{240}{238}
\Ub{597}{723}{204}{218}{222}
\Ub{575}{620}{218}{240}{242}
\Ub{678}{770}{222}{236}{232}
\Ub{325}{450}{228}{240}{238}
\Ub{280}{360}{240}{255}{250}
\Ub{425}{475}{238}{255}{250}
\Ub{640}{715}{236}{250}{248}
\Ub{745}{800}{232}{246}{240}
\Ub{540}{590}{240}{255}{255}
\Ub{600}{640}{242}{256}{256}
\Ub{255}{270}{240}{258}{258}
\Ub{505}{520}{240}{262}{262}
\Ub{285}{305}{250}{260}{260}
\Ub{335}{355}{250}{260}{260}
\Ub{370}{395}{248}{260}{260}
\Ub{410}{440}{244}{258}{258}
\Ub{455}{480}{250}{260}{260}
\Ub{550}{570}{246}{258}{258}
\Ub{650}{680}{248}{256}{256}
\Ub{690}{712}{250}{258}{258}
\Ub{750}{775}{240}{252}{252}
\Ub{785}{800}{240}{252}{252}
\Rb{253}{808}{278}{308}{ssalmon}
\Rb{253}{275}{278}{308}{ggreen}
\Rb{280}{298}{278}{308}{ggreen}
\Rb{303}{408}{278}{308}{ggreen}
\Rb{413}{491}{278}{308}{ggreen}
\Rb{497}{501}{278}{308}{ggreen}
\Rb{213}{244}{318}{733}{ssalmon}
\Rb{213}{244}{318}{335}{ggreen}
\Rb{213}{244}{340}{350}{ggreen}
\Rb{213}{244}{356}{432}{ggreen}
\Rb{213}{244}{438}{495}{ggreen}
\Rb{190}{210}{318}{733}{black!82}
\Vb{370}{570}{46}{136}{115}
\Vb{325}{418}{136}{178}{165}
\Vb{518}{622}{115}{150}{138}
\Vb{575}{665}{138}{158}{155}
\Vb{345}{390}{165}{190}{185}
\Vb{440}{470}{165}{190}{175}
\Vb{395}{480}{165}{175}{172}
\Vb{505}{535}{150}{190}{175}
\Vb{555}{600}{158}{190}{175}
\Vb{640}{690}{155}{190}{170}
\Vb{320}{332}{178}{190}{190}
\node[font=\fhl] at (848,292) {label};
\node[font=\fhl,rotate=-90] at (228,772) {label};
\node[font=\fhl,anchor=west,inner sep=0pt] at (945,487) {label};
\Rb{944}{988}{508}{551}{ggreen}
\Rb{944}{988}{551}{597}{ssalmon}
\node[font=\fhl,anchor=west,inner sep=0pt] at (997,532) {normal};
\node[font=\fhl,anchor=west,inner sep=0pt] at (997,576) {tumor};
\node[font=\flet] at (27,97) {D};
\end{axis}
% ---------- overlay E
\begin{axis}[ov,at={(266.25pt,-372.75pt)},width=266.25pt,height=204pt,ymax=816]
\Rb{246}{800}{266}{273}{dendc}
\Rb{805}{827}{252}{273}{dendc}
\addplot[fill=dendc!85,draw=none,forget plot] coordinates {(246,267)(255,254)(275,260)(300,256)(325,260)(360,266)(380,260)(420,267)(470,268)(530,268)(585,266)(600,260)(640,264)(680,266)(700,258)(730,258)(770,258)(800,268)(800,267)} -- cycle;
\Ub{437}{806}{110}{218}{178}
\Ub{283}{591}{218}{242}{232}
\Ub{460}{722}{232}{245}{238}
\Ub{378}{610}{245}{258}{250}
\Ub{428}{540}{258}{262}{262}
\Ub{255}{345}{242}{258}{250}
\Ub{690}{748}{238}{258}{245}
\Ub{802}{811}{178}{270}{232}
\Ub{808}{820}{232}{270}{250}
\Ub{815}{825}{250}{272}{258}
\Rb{246}{827}{278}{308}{ssalmon}
\Rb{246}{258}{278}{308}{ggreen}
\Rb{263}{265}{278}{308}{ggreen}
\Rb{291}{294}{278}{308}{ggreen}
\Rb{363}{585}{278}{308}{ggreen}
\Rb{600}{603}{278}{308}{ggreen}
\Rb{683}{720}{278}{308}{ggreen}
\Rb{800}{804}{278}{308}{ggreen}
\Rb{205}{236}{318}{733}{ssalmon}
\Rb{205}{236}{318}{328}{ggreen}
\Rb{205}{236}{330}{333}{ggreen}
\Rb{205}{236}{402}{558}{ggreen}
\Rb{205}{236}{570}{573}{ggreen}
\Rb{205}{236}{630}{657}{ggreen}
\Rb{205}{236}{714}{718}{ggreen}
\Rb{190}{203}{318}{733}{black!82}
\Vb{453}{717}{39}{147}{105}
\Vb{342}{565}{147}{172}{165}
\Vb{714}{722}{105}{190}{165}
\Vb{325}{380}{172}{190}{185}
\Vb{470}{650}{165}{175}{170}
\Vb{410}{530}{175}{190}{185}
\Vb{600}{690}{170}{190}{185}
\addplot[color={rgb,255:red,150;green,210;blue,235},line width=0.8pt,no marks,forget plot] coordinates {(803,318)(803,733)};
\addplot[color={rgb,255:red,150;green,210;blue,235},line width=0.8pt,no marks,forget plot] coordinates {(246,715)(827,715)};
\node[font=\fhl] at (865,292) {label};
\node[font=\fhl,rotate=-90] at (220,772) {label};
\node[font=\fhl,anchor=west,inner sep=0pt] at (937,487) {label};
\Rb{937}{981}{508}{551}{ggreen}
\Rb{937}{981}{551}{597}{ssalmon}
\node[font=\fhl,anchor=west,inner sep=0pt] at (990,532) {normal};
\node[font=\fhl,anchor=west,inner sep=0pt] at (990,576) {tumor};
\node[font=\flet] at (35,97) {E};
\end{axis}
% ---------- overlay F
\begin{axis}[ov,at={(532.5pt,-372.75pt)},width=266.25pt,height=204pt,ymax=816]
\Rb{232}{700}{280}{286}{dendc}
\addplot[fill=dendc!85,draw=none,forget plot] coordinates {(232,281)(240,272)(260,274)(290,280)(320,281)(350,280)(390,281)(420,276)(450,280)(480,274)(520,276)(570,280)(600,274)(650,274)(700,281)} -- cycle;
\Ub{508}{768}{120}{232}{195}
\Ub{340}{677}{232}{255}{240}
\Ub{245}{410}{255}{268}{262}
\Ub{632}{720}{240}{262}{245}
\Ub{595}{670}{258}{272}{266}
\Ub{320}{420}{262}{278}{276}
\Ub{710}{750}{245}{285}{262}
\Ub{761}{775}{195}{285}{237}
\Ub{770}{782}{237}{285}{265}
\Rb{228}{786}{287}{318}{ssalmon}
\Rb{243}{453}{287}{318}{ggreen}
\Rb{528}{570}{287}{318}{ggreen}
\Rb{710}{717}{287}{318}{ggreen}
\Rb{772}{786}{287}{318}{ggreen}
\Rb{189}{219}{328}{743}{ssalmon}
\Rb{189}{219}{340}{495}{ggreen}
\Rb{189}{219}{551}{581}{ggreen}
\Rb{189}{219}{684}{690}{ggreen}
\Rb{189}{219}{722}{732}{gray!70}
\Rb{189}{219}{732}{743}{ggreen}
\Rb{178}{187}{340}{720}{dendc}
\Vb{535}{730}{22}{138}{98}
\Vb{460}{630}{138}{155}{145}
\Vb{340}{490}{155}{175}{170}
\Vb{600}{690}{145}{165}{150}
\Vb{725}{735}{98}{185}{135}
\Vb{395}{470}{170}{185}{180}
\Vb{500}{570}{165}{185}{178}
\addplot[fill=fpink,fill opacity=0.3,draw=none,forget plot] coordinates {(228,328)(786,328)(786,743)(228,743)} -- cycle;
\addplot[color={rgb,255:red,140;green,155;blue,180},line width=0.7pt,no marks,forget plot] coordinates {(285,722)(705,722)};
\addplot[color={rgb,255:red,140;green,155;blue,180},line width=0.7pt,no marks,forget plot] coordinates {(764,370)(764,680)};
\node[font=\fhl] at (826,302) {label};
\node[font=\fhl,rotate=-90] at (203,782) {label};
\node[font=\fhl,anchor=west,inner sep=0pt] at (918,496) {label};
\Rb{918}{964}{517}{562}{ggreen}
\Rb{918}{964}{562}{608}{ssalmon}
\node[font=\fhl,anchor=west,inner sep=0pt] at (972,542) {normal};
\node[font=\fhl,anchor=west,inner sep=0pt] at (972,586) {tumor};
\node[font=\flet] at (30,97) {F};
\end{axis}
% ---------- F annotation grids
\begin{axis}[fgridded,at={(589.5pt,-248.25pt)},width=139.5pt,height=7.75pt,
 xmin=-0.5,xmax=24.5,ymin=0,ymax=1,xtick={-0.4328,-0.0296,...,24.5},ytick=\empty]
\end{axis}
\begin{axis}[fgridded,at={(579.75pt,-354.5pt)},width=7.5pt,height=103.75pt,y dir=reverse,
 xmin=0,xmax=1,ymin=-0.5,ymax=24.5,xtick=\empty,ytick={-0.47,0.0722,...,24.5}]
\end{axis}
\end{tikzpicture}
\end{document}
